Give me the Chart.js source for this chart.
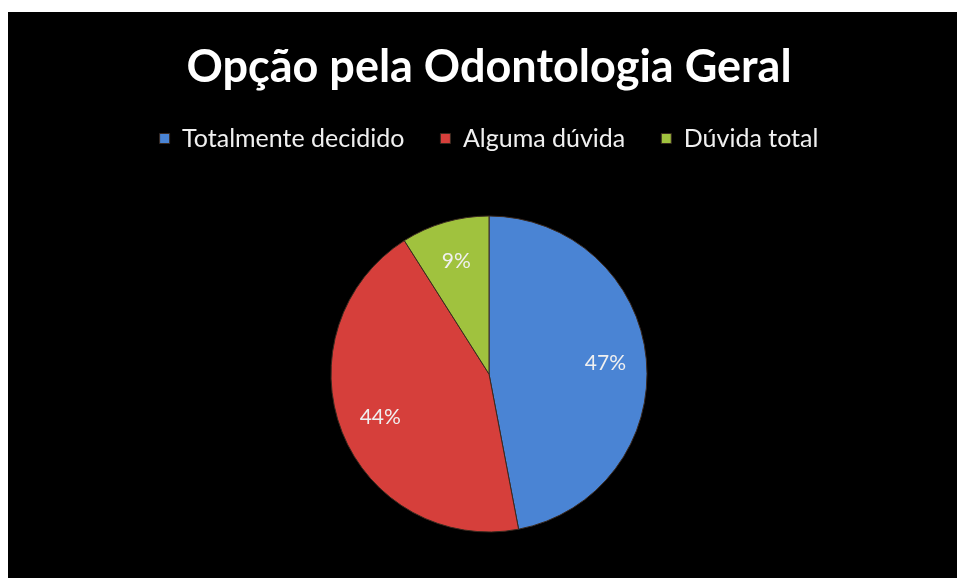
<!DOCTYPE html>
<html>
<head>
<meta charset="utf-8">
<script src="https://cdn.jsdelivr.net/npm/chart.js@4.4.0/dist/chart.umd.min.js"></script>
<style>
html,body{margin:0;padding:0;background:#fff;width:957px;height:578px;overflow:hidden;}
#wrap{position:absolute;left:8px;top:12px;width:949px;height:566px;background:#000;}
</style>
</head>
<body>
<div id="wrap"><canvas id="c" width="949" height="566"></canvas></div>
<script>
const titleText = "Opção pela Odontologia Geral";
const categories = ["Totalmente decidido", "Alguma dúvida", "Dúvida total"];
const values = [47, 44, 9];
const colors = ["#4a84d4", "#d63f3b", "#a0c23e"];

const pctLabels = {
  id: 'pctLabels',
  afterDatasetsDraw(chart) {
    const ctx = chart.ctx;
    const meta = chart.getDatasetMeta(0);
    const total = values.reduce((a, b) => a + b, 0);
    ctx.save();
    ctx.font = '21px Lato, "Open Sans", sans-serif';
    ctx.fillStyle = '#f0f0f0';
    ctx.textAlign = 'center';
    ctx.textBaseline = 'middle';
    meta.data.forEach((arc, i) => {
      const mid = (arc.startAngle + arc.endAngle) / 2;
      const r = arc.outerRadius * 0.74;
      const x = arc.x + Math.cos(mid) * r;
      const y = arc.y + Math.sin(mid) * r;
      ctx.fillText(Math.round(values[i] / total * 100) + '%', x, y);
    });
    ctx.restore();
  }
};

const legendGap = {
  id: 'legendGap',
  beforeInit(chart) {
    const orig = chart.legend.fit;
    chart.legend.fit = function () {
      orig.call(this);
      this.height += 9;
    };
  }
};

new Chart(document.getElementById('c'), {
  type: 'pie',
  data: {
    labels: categories,
    datasets: [{
      data: values,
      backgroundColor: colors,
      borderColor: '#3a2a20',
      borderWidth: 1
    }]
  },
  options: {
    responsive: false,
    animation: false,
    radius: 158,
    layout: { padding: { left: 13, top: 21, bottom: 0 } },
    plugins: {
      title: {
        display: true,
        text: titleText,
        color: '#ffffff',
        font: { family: 'Lato, "Open Sans", sans-serif', size: 45, weight: 'bold' },
        padding: { top: 7, bottom: -4 }
      },
      legend: {
        display: true,
        position: 'top',
        labels: {
          color: '#f0f0f0',
          font: { family: 'Lato, "Open Sans", sans-serif', size: 25 },
          boxWidth: 10,
          boxHeight: 10,
          padding: 36
        }
      },
      tooltip: { enabled: false }
    }
  },
  plugins: [pctLabels, legendGap]
});
</script>
</body>
</html>
